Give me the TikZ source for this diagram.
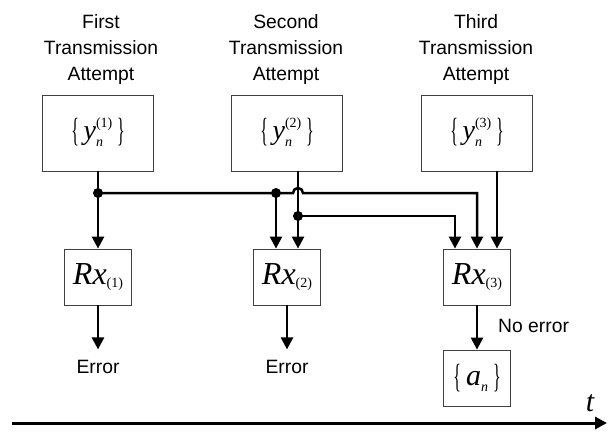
\documentclass[tikz,border=0pt]{standalone}
\usepackage{fontspec}
\usepackage{graphicx}
\setmainfont{Liberation Sans}
\newfontfamily\tnr{Liberation Serif}
\usetikzlibrary{arrows.meta}
\usetikzlibrary{positioning}

\newcommand{\lbrc}{\raisebox{-2pt}{\scalebox{0.5}[1.05]{\fontsize{32}{32}\selectfont\{}}}
\newcommand{\rbrc}{\raisebox{-2pt}{\scalebox{0.5}[1.05]{\fontsize{32}{32}\selectfont\}}}}
\newcommand{\supsub}[2]{\raisebox{-7pt}{\fontsize{14}{19}\selectfont%
  \begin{tabular}[b]{@{}l@{}}#1\\\textit{#2}\end{tabular}}}
\newcommand{\ysq}[1]{{\tnr\fontsize{28}{28}\selectfont\lbrc\,\textit{y}%
  \supsub{(#1)}{n}\,\rbrc}}
\newcommand{\rxsym}[1]{{\tnr\fontsize{32}{32}\selectfont\textit{Rx}%
  \raisebox{-3pt}{\fontsize{14}{14}\selectfont(#1)}}}
\newcommand{\asq}{{\tnr\fontsize{30}{30}\selectfont\lbrc\,\textit{a}%
  \raisebox{-6pt}{\fontsize{14}{14}\selectfont\textit{n}}\,\rbrc}}

\begin{document}
\begin{tikzpicture}[x=1pt,y=-1pt,
  font=\fontsize{19.3}{26}\selectfont,
  box/.style={draw=black!75,line width=0.8pt,inner sep=0pt,
    minimum width=111pt,minimum height=76pt},
  rxbox/.style={box,minimum width=67pt,minimum height=56pt},
  title/.style={align=center,anchor=north,inner sep=0pt},
  lbl/.style={inner sep=0pt},
  conn/.style={line width=2.5pt,-{Triangle[length=12pt,width=12pt]}},
  dot/.style={fill=black}]
  \useasboundingbox (0,0) rectangle (610,433);
  % transmission attempts
  \node[title] (t1) at (101,14) {First\\Transmission\\Attempt};
  \node[title] (t2) at (286,14) {Second\\Transmission\\Attempt};
  \node[title] (t3) at (476,14) {Third\\Transmission\\Attempt};
  \node[box] (y1) at (98,133) {\ysq{1}};
  \node[box] (y2) at (287,133) {\ysq{2}};
  \node[box] (y3) at (477,133) {\ysq{3}};
  % receivers
  \node[rxbox] (rx1) at (98,277) {\rxsym{1}};
  \node[rxbox] (rx2) at (287,277) {\rxsym{2}};
  \node[rxbox] (rx3) at (477,277) {\rxsym{3}};
  \node[rxbox] (an) at (477,378) {\asq};
  \node[lbl,below=55pt of rx1] (err1) {Error};
  \node[lbl,below=55pt of rx2] (err2) {Error};
  \node[lbl,anchor=west] (ok) at (498,326) {No error};
  % combining
  \coordinate (s2) at ([xshift=11pt]y2.south);
  \coordinate (s3) at ([xshift=20pt]y3.south);
  \coordinate (d1) at (98,193);
  \coordinate (d2) at ([xshift=-11pt]rx2.north |- d1);
  \coordinate (d3) at (s2 |- 0,216);
  \coordinate (hop) at (s2 |- d1);
  \coordinate (c3) at ([xshift=-22pt]rx3.north);
  \draw[conn] (y1) -- (rx1);
  \draw[conn] (d1) -- ([xshift=-5pt]hop)
    arc[start angle=180,end angle=0,radius=5pt]
    -- (rx3.north |- d1) -- (rx3.north);
  \draw[conn] (d2) -- (d2 |- rx2.north);
  \draw[conn] (s2) -- (s2 |- rx2.north);
  \draw[conn] (d3) -- (c3 |- d3) -- (c3);
  \draw[conn] (s3) -- (s3 |- rx3.north);
  \fill[dot] (d1) circle[radius=5pt];
  \fill[dot] (d2) circle[radius=5pt];
  \fill[dot] (d3) circle[radius=5pt];
  % decisions
  \draw[conn] (rx1) -- ([yshift=11pt]err1.north);
  \draw[conn] (rx2) -- ([yshift=11pt]err2.north);
  \draw[conn] (rx3) -- (an);
  % time axis
  \coordinate (t0) at (12,423);
  \coordinate (tend) at (607,423);
  \draw[conn,line width=3pt] (t0) -- (tend);
  \node[lbl] (tl) at (590,403) {\tnr\itshape\fontsize{30}{30}\selectfont t};
\end{tikzpicture}
\end{document}
